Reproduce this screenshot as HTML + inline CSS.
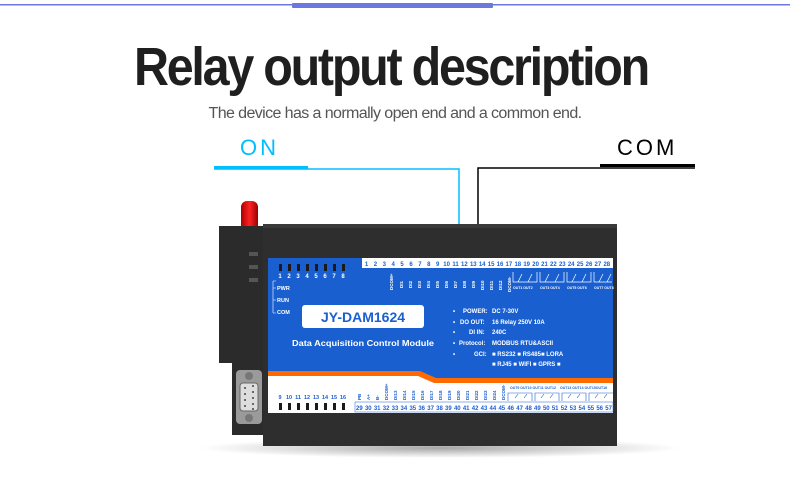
<!DOCTYPE html>
<html><head><meta charset="utf-8"><style>
html,body{margin:0;padding:0;background:#fff;}
svg{display:block;}
</style></head><body>
<svg width="790" height="477" viewBox="0 0 790 477" xmlns="http://www.w3.org/2000/svg" font-family="Liberation Sans, sans-serif">
<defs>
<radialGradient id="sh" cx="50%" cy="50%" r="50%"><stop offset="0" stop-color="#000" stop-opacity="0.35"/><stop offset="1" stop-color="#000" stop-opacity="0"/></radialGradient>
<linearGradient id="ant" x1="0" x2="1"><stop offset="0" stop-color="#a00"/><stop offset="0.5" stop-color="#f22"/><stop offset="1" stop-color="#900"/></linearGradient>
</defs>
<!-- top line -->
<rect x="0" y="4" width="790" height="1.5" fill="#6b78e0"/>
<rect x="292" y="3" width="201" height="5" rx="1" fill="#6b78e0"/>
<!-- title -->
<text x="391" y="85" text-anchor="middle" font-size="54" font-weight="bold" fill="#1f1f1f" letter-spacing="-2.5" textLength="514" lengthAdjust="spacingAndGlyphs">Relay output description</text>
<text x="395" y="118" text-anchor="middle" font-size="15.5" fill="#555" letter-spacing="-0.6" textLength="373" lengthAdjust="spacingAndGlyphs">The device has a normally open end and a common end.</text>
<!-- ON -->
<text x="240" y="155" font-size="22" fill="#00bfff" letter-spacing="3">ON</text>
<rect x="214" y="166" width="94" height="3" fill="#00bfff"/>
<polyline points="214,169 459,169 459,258" fill="none" stroke="#00bfff" stroke-width="1.5"/>
<!-- COM -->
<text x="617" y="155" font-size="22" fill="#000" letter-spacing="3">COM</text>
<rect x="600" y="164" width="95" height="3" fill="#000"/>
<polyline points="695,168 478,168 478,258" fill="none" stroke="#000" stroke-width="1.5"/>
<!-- shadow -->
<ellipse cx="440" cy="448" rx="240" ry="10" fill="url(#sh)"/>
<!-- antenna -->
<rect x="241" y="201" width="17" height="30" rx="6" fill="url(#ant)"/>
<!-- left chassis -->
<path d="M219,226 H266 V435 H232 V363 H219 Z" fill="#2b2b2b"/>
<rect x="249" y="252" width="9" height="4" fill="#555"/>
<rect x="249" y="265" width="9" height="4" fill="#555"/>
<rect x="249" y="278" width="9" height="4" fill="#555"/>
<!-- DB9 -->
<rect x="236" y="370" width="26" height="54" rx="4" fill="#9a9a9a"/>
<circle cx="249" cy="376" r="4" fill="#777"/><circle cx="249" cy="418" r="4" fill="#777"/>
<rect x="240" y="383" width="18" height="28" rx="3" fill="#ddd" stroke="#666"/>
<g fill="#444"><circle cx="245" cy="388" r="1"/><circle cx="245" cy="394" r="1"/><circle cx="245" cy="400" r="1"/><circle cx="245" cy="406" r="1"/><circle cx="253" cy="386" r="1"/><circle cx="253" cy="392" r="1"/><circle cx="253" cy="398" r="1"/><circle cx="253" cy="404" r="1"/><circle cx="253" cy="409" r="1"/></g>
<!-- main body -->
<rect x="263" y="224" width="354" height="222" fill="#2e2e2e"/>
<rect x="263" y="224" width="354" height="4" fill="#3a3a3a"/>
<!-- blue panel -->
<rect x="268" y="258" width="345" height="120" fill="#1a5fd0"/>
<!-- orange band + white -->
<path d="M268,371 H420 L436,378 H613 V384 H268 Z" fill="#ff6a00"/>
<path d="M268,376 H418 L434,383 H613 V413 H268 Z" fill="#fff"/>
<!-- LEDs top -->
<g fill="#1a1a1a">
<rect x="279" y="264" width="3" height="7"/><rect x="288" y="264" width="3" height="7"/><rect x="297" y="264" width="3" height="7"/><rect x="306" y="264" width="3" height="7"/><rect x="315" y="264" width="3" height="7"/><rect x="324" y="264" width="3" height="7"/><rect x="333" y="264" width="3" height="7"/><rect x="342" y="264" width="3" height="7"/>
</g>
<g fill="#fff" font-size="6" font-weight="bold" text-anchor="middle">
<text x="280" y="278">1</text><text x="289" y="278">2</text><text x="298" y="278">3</text><text x="307" y="278">4</text><text x="316" y="278">5</text><text x="325" y="278">6</text><text x="334" y="278">7</text><text x="343" y="278">8</text>
</g>
<path d="M273,281 V313 M273,288 H276 M273,300 H276 M273,313 H276 M273,281 H276" stroke="#fff" stroke-width="0.6" fill="none"/>
<g fill="#fff" font-size="5.5" font-weight="bold"><text x="277" y="290">PWR</text><text x="277" y="302">RUN</text><text x="277" y="314">COM</text></g>
<!-- model box -->
<rect x="302" y="305" width="122" height="23" rx="3" fill="#fff"/>
<text x="363" y="322" text-anchor="middle" font-size="14" font-weight="bold" fill="#1a5fd0">JY-DAM1624</text>
<text x="292" y="346" font-size="8.5" font-weight="bold" fill="#fff" textLength="142" lengthAdjust="spacingAndGlyphs">Data Acquisition Control Module</text>
<!-- specs -->
<g fill="#fff" font-size="6" font-weight="bold">
<text x="453" y="313">•</text><text x="463" y="313">POWER:</text><text x="492" y="313">DC 7-30V</text>
<text x="453" y="324">•</text><text x="460" y="324">DO OUT:</text><text x="492" y="324">16 Relay 250V 10A</text>
<text x="453" y="334">•</text><text x="469" y="334">DI IN:</text><text x="492" y="334">240C</text>
<text x="453" y="345">•</text><text x="459" y="345">Protocol:</text><text x="492" y="345">MODBUS RTU&amp;ASCII</text>
<text x="453" y="356">•</text><text x="474" y="356">GCI:</text><text x="492" y="356">■ RS232 ■ RS485■ LORA</text>
<text x="492" y="366">■ RJ45 ■ WIFI ■ GPRS ■</text>
</g>
<!-- top terminal row -->
<g id="tt">
<rect x="362" y="258" width="251" height="10" fill="#fff"/>
</g>
<g fill="#1a5fd0" font-size="6" font-weight="bold" text-anchor="middle">
<text x="366.5" y="266">1</text><text x="375.4" y="266">2</text><text x="384.3" y="266">3</text><text x="393.2" y="266">4</text><text x="402.1" y="266">5</text><text x="411" y="266">6</text><text x="419.9" y="266">7</text><text x="428.8" y="266">8</text><text x="437.7" y="266">9</text><text x="446.6" y="266">10</text><text x="455.5" y="266">11</text><text x="464.4" y="266">12</text><text x="473.3" y="266">13</text><text x="482.2" y="266">14</text><text x="491.1" y="266">15</text><text x="500" y="266">16</text><text x="508.9" y="266">17</text><text x="517.8" y="266">18</text><text x="526.7" y="266">19</text><text x="535.6" y="266">20</text><text x="544.5" y="266">21</text><text x="553.4" y="266">22</text><text x="562.3" y="266">23</text><text x="571.2" y="266">24</text><text x="580.1" y="266">25</text><text x="589" y="266">26</text><text x="597.9" y="266">27</text><text x="606.8" y="266">28</text>
</g>
<g fill="#fff" font-size="4.5" font-weight="bold">
<text x="393" y="290" transform="rotate(-90 393 290)">DCOM+</text>
<text x="403" y="288" transform="rotate(-90 403 288)">DI1</text><text x="412" y="288" transform="rotate(-90 412 288)">DI2</text><text x="421" y="288" transform="rotate(-90 421 288)">DI3</text><text x="430" y="288" transform="rotate(-90 430 288)">DI4</text><text x="439" y="288" transform="rotate(-90 439 288)">DI5</text><text x="448" y="288" transform="rotate(-90 448 288)">DI6</text><text x="457" y="288" transform="rotate(-90 457 288)">DI7</text><text x="466" y="288" transform="rotate(-90 466 288)">DI8</text><text x="475" y="288" transform="rotate(-90 475 288)">DI9</text><text x="484" y="290" transform="rotate(-90 484 290)">DI10</text><text x="493" y="290" transform="rotate(-90 493 290)">DI11</text><text x="502" y="290" transform="rotate(-90 502 290)">DI12</text><text x="511" y="292" transform="rotate(-90 511 292)">DCOM-</text>
</g>
<g stroke="#fff" stroke-width="0.7" fill="none">
<path d="M513,272 v10 h24 v-10 M518,282 l4,-8 M528,282 l4,-8"/>
<path d="M540,272 v10 h24 v-10 M545,282 l4,-8 M555,282 l4,-8"/>
<path d="M567,272 v10 h24 v-10 M572,282 l4,-8 M582,282 l4,-8"/>
<path d="M594,272 v10 h18 M599,282 l4,-8 M607,282 l4,-8"/>
</g>
<g fill="#fff" font-size="3.5" font-weight="bold"><text x="513" y="289">OUT1 OUT2</text><text x="540" y="289">OUT3 OUT4</text><text x="567" y="289">OUT5 OUT6</text><text x="594" y="289">OUT7 OUT8</text></g>
<!-- bottom LEDs -->
<g fill="#1a5fd0" font-size="5.5" font-weight="bold" text-anchor="middle">
<text x="280" y="399">9</text><text x="289" y="399">10</text><text x="298" y="399">11</text><text x="307" y="399">12</text><text x="316" y="399">13</text><text x="325" y="399">14</text><text x="334" y="399">15</text><text x="343" y="399">16</text>
</g>
<g fill="#1a1a1a">
<rect x="279" y="403" width="3" height="7"/><rect x="288" y="403" width="3" height="7"/><rect x="297" y="403" width="3" height="7"/><rect x="306" y="403" width="3" height="7"/><rect x="315" y="403" width="3" height="7"/><rect x="324" y="403" width="3" height="7"/><rect x="333" y="403" width="3" height="7"/><rect x="342" y="403" width="3" height="7"/>
</g>
<!-- bottom terminal row -->
<rect x="355" y="402" width="258" height="10" fill="#fff" stroke="#1a5fd0" stroke-width="0.5"/>
<g fill="#1a5fd0" font-size="6" font-weight="bold" text-anchor="middle">
<text x="359.4" y="410">29</text><text x="368.3" y="410">30</text><text x="377.2" y="410">31</text><text x="386.1" y="410">32</text><text x="395" y="410">33</text><text x="403.9" y="410">34</text><text x="412.8" y="410">35</text><text x="421.7" y="410">36</text><text x="430.6" y="410">37</text><text x="439.5" y="410">38</text><text x="448.4" y="410">39</text><text x="457.3" y="410">40</text><text x="466.2" y="410">41</text><text x="475.1" y="410">42</text><text x="484" y="410">43</text><text x="492.9" y="410">44</text><text x="501.8" y="410">45</text><text x="510.7" y="410">46</text><text x="519.6" y="410">47</text><text x="528.5" y="410">48</text><text x="537.4" y="410">49</text><text x="546.3" y="410">50</text><text x="555.2" y="410">51</text><text x="564.1" y="410">52</text><text x="573" y="410">53</text><text x="581.9" y="410">54</text><text x="590.8" y="410">55</text><text x="599.7" y="410">56</text><text x="608.6" y="410">57</text>
</g>
<g fill="#1a5fd0" font-size="4.5" font-weight="bold">
<text x="388" y="400" transform="rotate(-90 388 400)">DCOM+</text>
<text x="397" y="400" transform="rotate(-90 397 400)">DI13</text><text x="406" y="400" transform="rotate(-90 406 400)">DI14</text><text x="415" y="400" transform="rotate(-90 415 400)">DI15</text><text x="424" y="400" transform="rotate(-90 424 400)">DI16</text><text x="433" y="400" transform="rotate(-90 433 400)">DI17</text><text x="442" y="400" transform="rotate(-90 442 400)">DI18</text><text x="451" y="400" transform="rotate(-90 451 400)">DI19</text><text x="460" y="400" transform="rotate(-90 460 400)">DI20</text><text x="469" y="400" transform="rotate(-90 469 400)">DI21</text><text x="478" y="400" transform="rotate(-90 478 400)">DI22</text><text x="487" y="400" transform="rotate(-90 487 400)">DI23</text><text x="496" y="400" transform="rotate(-90 496 400)">DI24</text><text x="505" y="400" transform="rotate(-90 505 400)">DCOM-</text>
<text x="361" y="400" transform="rotate(-90 361 400)">PB</text><text x="370" y="400" transform="rotate(-90 370 400)">A+</text><text x="379" y="400" transform="rotate(-90 379 400)">B-</text>
</g>
<g fill="#1a5fd0" font-size="3.5" font-weight="bold"><text x="510" y="389">OUT9 OUT10 OUT11 OUT12</text><text x="560" y="389">OUT13 OUT14 OUT15OUT16</text></g>
<g stroke="#1a5fd0" stroke-width="0.6" fill="none">
<path d="M508,401 v-8 h24 v8 M515,398 l3,-4 M524,398 l3,-4"/>
<path d="M535,401 v-8 h24 v8 M541,398 l3,-4 M550,398 l3,-4"/>
<path d="M562,401 v-8 h24 v8 M568,398 l3,-4 M577,398 l3,-4"/>
<path d="M589,401 v-8 h24 M595,398 l3,-4 M604,398 l3,-4"/>
</g>
</svg>
</body></html>
